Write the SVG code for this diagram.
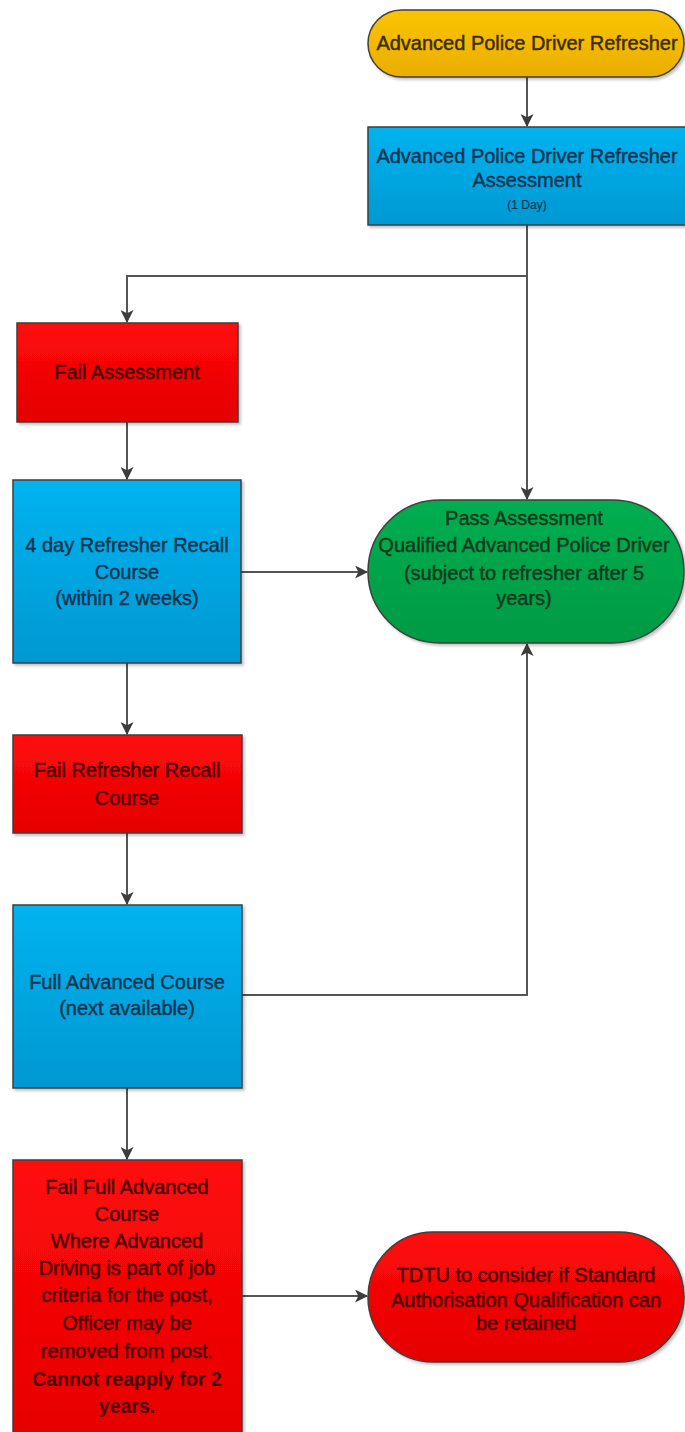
<svg xmlns="http://www.w3.org/2000/svg" width="685" height="1432" viewBox="0 0 685 1432">
  <defs>
    <linearGradient id="gBlue" x1="0" y1="0" x2="0" y2="1">
      <stop offset="0" stop-color="#00B3EF"/>
      <stop offset="1" stop-color="#0098D2"/>
    </linearGradient>
    <linearGradient id="gRed" x1="0" y1="0" x2="0" y2="1">
      <stop offset="0" stop-color="#FF0A0A"/>
      <stop offset="1" stop-color="#E50000"/>
    </linearGradient>
    <linearGradient id="gGreen" x1="0" y1="0" x2="0" y2="1">
      <stop offset="0" stop-color="#00AE50"/>
      <stop offset="1" stop-color="#009A44"/>
    </linearGradient>
    <linearGradient id="gYellow" x1="0" y1="0" x2="0" y2="1">
      <stop offset="0" stop-color="#FAC400"/>
      <stop offset="1" stop-color="#EAAE00"/>
    </linearGradient>
    <filter id="shadow" x="-5%" y="-5%" width="115%" height="115%">
      <feDropShadow dx="2" dy="2" stdDeviation="1.5" flood-color="#000" flood-opacity="0.25"/>
    </filter>
    <marker id="arrow" viewBox="0 0 12 12" refX="11" refY="6" markerWidth="13" markerHeight="13" markerUnits="userSpaceOnUse" orient="auto">
      <path d="M0,0 L12,6 L0,12 L3,6 Z" fill="#3c3c3c"/>
    </marker>
  </defs>
  <style>
    .shape { stroke: #3f3f3f; stroke-width: 1.5; filter: url(#shadow); }
    .blue { fill: url(#gBlue); }
    .red { fill: url(#gRed); }
    .green { fill: url(#gGreen); }
    .yellow { fill: url(#gYellow); }
    text { font-family: "Liberation Sans", Arial, sans-serif; font-size: 20px; text-anchor: middle; stroke-width: 0.45; }
    .tBlue { fill: #0C3552; stroke: #0C3552; }
    .tRed { fill: #4A0000; stroke: #4A0000; }
    .tGreen { fill: #0B3A1C; stroke: #0B3A1C; }
    .tYellow { fill: #3A2C00; stroke: #3A2C00; }
    .small { font-size: 12px; stroke-width: 0.2; }
    .bold { font-weight: bold; font-size: 19.5px; stroke-width: 0; }
    .conn { fill: none; stroke: #555; stroke-width: 2; }
  </style>

  <!-- connectors -->
  <g id="connectors">
    <path class="conn" d="M527,77 L527,126" marker-end="url(#arrow)"/>
    <path class="conn" d="M527,225 L527,276 L127,276 L127,322" marker-end="url(#arrow)"/>
    <path class="conn" d="M527,276 L527,499" marker-end="url(#arrow)"/>
    <path class="conn" d="M127,422 L127,479" marker-end="url(#arrow)"/>
    <path class="conn" d="M241,572 L367,572" marker-end="url(#arrow)"/>
    <path class="conn" d="M127,663 L127,734" marker-end="url(#arrow)"/>
    <path class="conn" d="M127,833 L127,904" marker-end="url(#arrow)"/>
    <path class="conn" d="M241,995 L527,995 L527,644" marker-end="url(#arrow)"/>
    <path class="conn" d="M127,1088 L127,1159" marker-end="url(#arrow)"/>
    <path class="conn" d="M241,1296 L367,1296" marker-end="url(#arrow)"/>
  </g>

  <!-- start terminal -->
  <g id="start">
    <rect class="shape yellow" x="368" y="10" width="316" height="67" rx="33.5" ry="33.5"/>
    <text class="tYellow" x="527" y="50">Advanced Police Driver Refresher</text>
  </g>

  <g id="refresher-assessment">
    <rect class="shape blue" x="368" y="127" width="318" height="98"/>
    <text class="tBlue" x="527" y="163">Advanced Police Driver Refresher</text>
    <text class="tBlue" x="527" y="187">Assessment</text>
    <text class="tBlue small" x="527" y="209">(1 Day)</text>
  </g>

  <g id="fail-assessment">
    <rect class="shape red" x="17" y="323" width="221" height="99"/>
    <text class="tRed" x="127" y="379">Fail Assessment</text>
  </g>

  <g id="recall-course">
    <rect class="shape blue" x="13" y="480" width="228" height="183"/>
    <text class="tBlue" x="127" y="552">4 day Refresher Recall</text>
    <text class="tBlue" x="127" y="579">Course</text>
    <text class="tBlue" x="127" y="605">(within 2 weeks)</text>
  </g>

  <g id="pass-assessment">
    <rect class="shape green" x="368" y="500" width="316" height="143" rx="71.5" ry="71.5"/>
    <text class="tGreen" x="524" y="525">Pass Assessment</text>
    <text class="tGreen" x="524" y="552">Qualified Advanced Police Driver</text>
    <text class="tGreen" x="524" y="580">(subject to refresher after 5</text>
    <text class="tGreen" x="524" y="605">years)</text>
  </g>

  <g id="fail-recall">
    <rect class="shape red" x="13" y="735" width="229" height="98"/>
    <text class="tRed" x="127" y="777">Fail Refresher Recall</text>
    <text class="tRed" x="127" y="805">Course</text>
  </g>

  <g id="full-course">
    <rect class="shape blue" x="13" y="905" width="229" height="183"/>
    <text class="tBlue" x="127" y="989">Full Advanced Course</text>
    <text class="tBlue" x="127" y="1015">(next available)</text>
  </g>

  <g id="fail-full-course">
    <rect class="shape red" x="13" y="1160" width="229" height="290"/>
    <text class="tRed" x="127" y="1194">Fail Full Advanced</text>
    <text class="tRed" x="127" y="1221">Course</text>
    <text class="tRed" x="127" y="1248">Where Advanced</text>
    <text class="tRed" x="127" y="1275">Driving is part of job</text>
    <text class="tRed" x="127" y="1302">criteria for the post,</text>
    <text class="tRed" x="127" y="1330">Officer may be</text>
    <text class="tRed" x="127" y="1358">removed from post.</text>
    <text class="tRed bold" x="127" y="1386">Cannot reapply for 2</text>
    <text class="tRed bold" x="127" y="1413">years.</text>
  </g>

  <g id="tdtu">
    <rect class="shape red" x="368" y="1232" width="316" height="130" rx="65" ry="65"/>
    <text class="tRed" x="526" y="1282">TDTU to consider if Standard</text>
    <text class="tRed" x="526" y="1307">Authorisation Qualification can</text>
    <text class="tRed" x="526" y="1330">be retained</text>
  </g>
</svg>
